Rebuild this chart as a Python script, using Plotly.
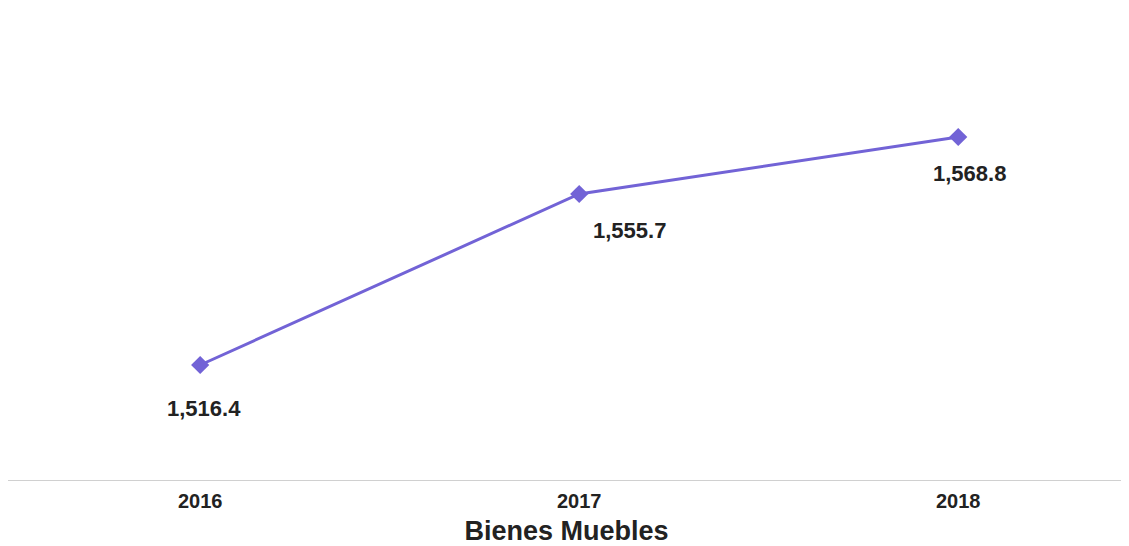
import plotly.graph_objects as go

years = ["2016", "2017", "2018"]
values = [1516.4, 1555.7, 1568.8]
labels = ["1,516.4", "1,555.7", "1,568.8"]
label_xshift = [4, 50, 11]
label_yshift = [-43, -36, -36]

FONT = "Liberation Sans, Arial, sans-serif"

fig = go.Figure()
fig.add_trace(go.Scatter(
    x=years, y=values, mode="lines+markers",
    line=dict(color="#7263d6", width=3),
    marker=dict(symbol="diamond", size=14, color="#7263d6"),
    hoverinfo="skip", showlegend=False,
))
for i, (y, t, xs, ys) in enumerate(zip(values, labels, label_xshift, label_yshift)):
    fig.add_annotation(x=i, y=y, xref="x", yref="y", text="<b>" + t + "</b>", showarrow=False,
                       xshift=xs, yshift=ys,
                       font=dict(family=FONT, size=22, color="#222222"))

# page body has an 8px margin; size figure so the plot area lands where the reference has it
fig.update_layout(
    width=1121, height=538,
    margin=dict(l=0, r=4, t=12, b=66),
    paper_bgcolor="white", plot_bgcolor="white",
    font=dict(family=FONT, color="#222222"),
    xaxis=dict(
        type="category", range=[-0.507, 2.44],
        showgrid=False, zeroline=False,
        showline=True, linecolor="#d0d0d0", linewidth=1,
        ticks="", tickfont=dict(size=20, color="#222222", family=FONT),
        ticklabelstandoff=3,
        tickvals=years, ticktext=["<b>" + y + "</b>" for y in years],
        title=dict(text="<b>Bienes Muebles</b>", font=dict(size=27, color="#222222", family=FONT), standoff=14),
        automargin=False,
    ),
    yaxis=dict(range=[1489.97, 1595.69], visible=False, showgrid=False, zeroline=False),
)
fig.write_html("out.html")
